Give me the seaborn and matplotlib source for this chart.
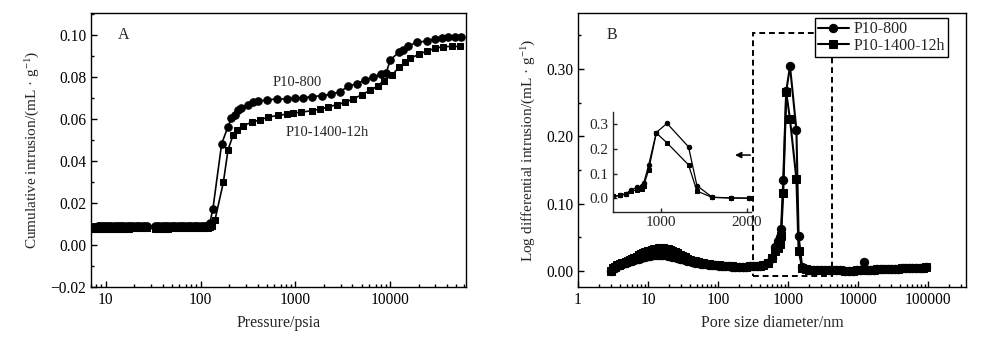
import numpy as np
import pandas as pd
import matplotlib
matplotlib.use("Agg")
import matplotlib.pyplot as plt
import matplotlib.ticker as mticker
from matplotlib.patches import Rectangle
import seaborn as sns

# ---------------- Panel A data ----------------
pressure_800 = [7.2, 7.5, 7.8, 8.2, 8.6, 9.0, 9.4, 9.9, 10.4, 10.9,
                11.5, 12.1, 12.7, 13.4, 14.1, 14.9, 15.7, 16.6, 17.5, 18.5,
                19.6, 20.7, 21.9, 23.2, 24.5, 25.9, 27.0, 33.0, 34.8, 36.7,
                38.8, 41.0, 43.3, 45.8, 48.4, 51.2, 54.1, 57.2, 60.5, 64.0,
                67.7, 71.6, 75.7, 80.1, 84.7, 89.6, 94.8, 100.3, 106.1, 112.2,
                118.7, 125.5, 135, 167, 195, 212, 229, 250, 270, 318,
                360, 407, 500, 635, 810, 1000, 1200, 1480, 1900, 2350,
                2960, 3620, 4440, 5400, 6600, 8000, 9100, 10000, 12500, 13800,
                15500, 19000, 24300, 29700, 34800, 40500, 47700, 56000]
intrusion_800 = [0.0086, 0.0087, 0.0087, 0.0088, 0.0088, 0.0088, 0.0088, 0.0089, 0.0089, 0.0089,
                 0.0089, 0.0089, 0.0089, 0.0089, 0.0090, 0.0090, 0.0090, 0.0090, 0.0090, 0.0090,
                 0.0090, 0.0090, 0.0090, 0.0090, 0.0090, 0.0090, 0.0090, 0.0089, 0.0089, 0.0089,
                 0.0089, 0.0089, 0.0089, 0.0090, 0.0090, 0.0090, 0.0090, 0.0090, 0.0090, 0.0090,
                 0.0090, 0.0090, 0.0090, 0.0090, 0.0090, 0.0090, 0.0090, 0.0091, 0.0091, 0.0092,
                 0.0094, 0.0105, 0.0171, 0.0481, 0.0563, 0.0603, 0.0619, 0.0643, 0.0651, 0.0667,
                 0.0678, 0.0683, 0.0690, 0.0694, 0.0695, 0.0698, 0.0700, 0.0705, 0.0710, 0.0716,
                 0.0729, 0.0755, 0.0767, 0.0784, 0.0797, 0.0811, 0.0820, 0.0879, 0.0919, 0.0927,
                 0.0946, 0.0963, 0.0970, 0.0978, 0.0985, 0.0989, 0.0990, 0.0990]

pressure_1400 = [7.2, 7.5, 7.8, 8.2, 8.6, 9.0, 9.4, 9.9, 10.4, 10.9,
                 11.5, 12.1, 12.7, 13.4, 14.1, 14.9, 15.7, 16.6, 17.5, 18.5,
                 19.6, 20.7, 21.9, 23.2, 24.5, 25.9, 27.0, 33.0, 34.8, 36.7,
                 38.8, 41.0, 43.3, 45.8, 48.4, 51.2, 54.1, 57.2, 60.5, 64.0,
                 67.7, 71.6, 75.7, 80.1, 84.7, 89.6, 94.8, 100.3, 106.1, 112.2,
                 118.7, 125.5, 132, 142, 174, 195, 221, 243, 282, 345,
                 426, 516, 660, 810, 950, 1160, 1480, 1820, 2230, 2730,
                 3330, 4080, 5000, 6120, 7500, 8500, 10500, 12500, 14400, 16300,
                 19900, 24300, 29700, 36000, 44400, 54500]
intrusion_1400 = [0.0074, 0.0075, 0.0075, 0.0076, 0.0076, 0.0076, 0.0077, 0.0077, 0.0077, 0.0077,
                  0.0078, 0.0078, 0.0078, 0.0078, 0.0078, 0.0078, 0.0078, 0.0078, 0.0078, 0.0079,
                  0.0079, 0.0079, 0.0079, 0.0079, 0.0079, 0.0079, 0.0079, 0.0078, 0.0078, 0.0078,
                  0.0078, 0.0078, 0.0078, 0.0078, 0.0079, 0.0079, 0.0079, 0.0079, 0.0079, 0.0079,
                  0.0079, 0.0079, 0.0079, 0.0079, 0.0079, 0.0079, 0.0080, 0.0080, 0.0080, 0.0081,
                  0.0082, 0.0085, 0.0092, 0.0119, 0.0297, 0.0452, 0.0524, 0.0548, 0.0567, 0.0583,
                  0.0595, 0.0608, 0.0616, 0.0622, 0.0627, 0.0632, 0.0638, 0.0646, 0.0656, 0.0667,
                  0.0678, 0.0694, 0.0714, 0.0735, 0.0757, 0.0782, 0.0808, 0.0848, 0.0868, 0.0887,
                  0.0906, 0.0922, 0.0935, 0.0943, 0.0944, 0.0944]

# ---------------- Panel B data ----------------
diameter_nm = [3.0, 3.2, 3.4, 3.6, 3.8, 4.0, 4.3, 4.6, 4.9, 5.2,
               5.6, 6.0, 6.4, 6.9, 7.4, 8.0, 8.6, 9.2, 9.9, 10.6,
               11.4, 12.3, 13.2, 14.2, 15.3, 16.5, 17.8, 19.2, 20.7, 22.4,
               24.2, 26.2, 28.4, 30.8, 33.4, 36.3, 39.5, 43.0, 47.0, 51.5,
               56.5, 62.0, 68.0, 75.0, 83.0, 92.0, 102, 114, 127, 142,
               159, 178, 200, 225, 253, 285, 320, 360, 400, 445,
               519, 593, 650, 724, 779, 798, 856, 945, 1070, 1321,
               1419, 1597, 1817, 2030, 2300, 2600, 2950, 3350, 3800, 4300,
               4900, 5500, 6600, 7500, 8500, 9600, 10800, 12100, 13500, 15100,
               16900, 18900, 21200, 23800, 26700, 30000, 33700, 37800, 42500, 47700,
               53600, 60200, 67600, 75900, 85200, 95000]
dv_800 = [0.000, 0.003, 0.005, 0.007, 0.008, 0.009, 0.010, 0.011, 0.012, 0.013,
          0.014, 0.015, 0.016, 0.017, 0.018, 0.019, 0.020, 0.021, 0.0215, 0.022,
          0.0228, 0.0233, 0.0237, 0.024, 0.024, 0.0238, 0.0233, 0.0227, 0.022, 0.021,
          0.020, 0.019, 0.018, 0.017, 0.016, 0.015, 0.014, 0.013, 0.012, 0.011,
          0.0105, 0.010, 0.0095, 0.009, 0.0085, 0.008, 0.0075, 0.007, 0.0068, 0.0065,
          0.0062, 0.006, 0.006, 0.006, 0.0062, 0.0065, 0.007, 0.0072, 0.0075, 0.008,
          0.012, 0.019, 0.035, 0.045, 0.050, 0.062, 0.135, 0.267, 0.304, 0.209,
          0.052, 0.005, 0.002, 0.001, 0.001, 0.001, 0.001, 0.001, 0.001, 0.001,
          0.001, 0.001, 0.000, 0.000, 0.0005, 0.001, 0.001, 0.0125, 0.001, 0.0015,
          0.0015, 0.002, 0.002, 0.002, 0.0025, 0.0025, 0.003, 0.003, 0.0035, 0.0035,
          0.004, 0.004, 0.004, 0.0045, 0.0045, 0.005]
dv_1400 = [0.000, 0.004, 0.006, 0.008, 0.009, 0.010, 0.011, 0.012, 0.013, 0.014,
           0.016, 0.018, 0.019, 0.021, 0.023, 0.025, 0.026, 0.028, 0.029, 0.030,
           0.031, 0.032, 0.0328, 0.0333, 0.0335, 0.0333, 0.033, 0.032, 0.031, 0.030,
           0.028, 0.026, 0.024, 0.022, 0.020, 0.018, 0.016, 0.015, 0.014, 0.013,
           0.012, 0.011, 0.010, 0.0095, 0.009, 0.0085, 0.008, 0.0075, 0.007, 0.0068,
           0.0065, 0.0063, 0.0062, 0.0062, 0.0063, 0.0065, 0.007, 0.0072, 0.0075, 0.008,
           0.012, 0.019, 0.030, 0.034, 0.040, 0.052, 0.115, 0.265, 0.225, 0.136,
           0.030, 0.004, 0.002, 0.001, 0.001, 0.001, 0.001, 0.001, 0.001, 0.001,
           0.001, 0.001, 0.000, 0.000, 0.0005, 0.001, 0.001, 0.001, 0.001, 0.0015,
           0.0015, 0.002, 0.002, 0.002, 0.0025, 0.0025, 0.003, 0.003, 0.0035, 0.0035,
           0.004, 0.004, 0.004, 0.0045, 0.0045, 0.005]

series_names = ["P10-800", "P10-1400-12h"]
series_markers = ["o", "s"]

sns.set_style("ticks")
plt.rcParams["font.family"] = ["Liberation Serif", "DejaVu Serif"]
plt.rcParams["mathtext.fontset"] = "custom"
plt.rcParams["mathtext.rm"] = "Liberation Serif"
plt.rcParams["mathtext.it"] = "Liberation Serif:italic"
plt.rcParams["font.size"] = 11

fig = plt.figure(figsize=(10, 3.44), dpi=100)
axA = fig.add_axes([0.091, 0.1657, 0.375, 0.7965])
axB = fig.add_axes([0.578, 0.1657, 0.388, 0.7965])

TICK_FS = 11.2

def style_axis(ax):
    for s in ax.spines.values():
        s.set_color("black")
        s.set_linewidth(1.0)
    ax.tick_params(which="both", direction="in", top=False, right=False,
                   colors="black", labelsize=TICK_FS)
    ax.tick_params(which="major", length=4, width=1)
    ax.tick_params(which="minor", length=2, width=1)

def plain_log(v, pos):
    return "%d" % int(round(v)) if v >= 1 else ""

# ---------- Panel A ----------
dfA = [pd.DataFrame({"p": pressure_800, "v": intrusion_800}),
       pd.DataFrame({"p": pressure_1400, "v": intrusion_1400})]
for df, name, mk, ms in zip(dfA, series_names, series_markers, [5.4, 4.8]):
    sns.lineplot(data=df, x="p", y="v", ax=axA, color="black", marker=mk,
                 markersize=ms, markeredgecolor="black", linewidth=1.2,
                 estimator=None, sort=False, legend=False)
axA.set_xscale("log")
axA.set_xlim(7.0, 63000)
axA.set_ylim(-0.02, 0.1103)
axA.xaxis.set_major_locator(mticker.LogLocator(base=10, numticks=10))
axA.xaxis.set_minor_locator(mticker.LogLocator(base=10, subs=np.arange(2, 10), numticks=20))
axA.xaxis.set_major_formatter(mticker.FuncFormatter(plain_log))
axA.xaxis.set_minor_formatter(mticker.NullFormatter())
axA.yaxis.set_major_locator(mticker.MultipleLocator(0.02))
axA.yaxis.set_minor_locator(mticker.MultipleLocator(0.01))
axA.yaxis.set_major_formatter(mticker.FuncFormatter(lambda v, p: ("\u2212%.2f" % -v) if v < -1e-9 else "%.2f" % abs(v)))
style_axis(axA)
axA.set_xlabel("Pressure/psia", fontsize=11.5, labelpad=5)
axA.set_ylabel("Cumulative intrusion/(mL · g$^{-1}$)", fontsize=11, labelpad=6)
axA.text(0.088, 0.92, "A", transform=axA.transAxes, fontsize=11.5, ha="center", va="center")
axA.text(1040, 0.0771, "P10-800", fontsize=10.5, ha="center", va="center")
axA.text(2150, 0.0533, "P10-1400-12h", fontsize=10.5, ha="center", va="center")

# ---------- Panel B ----------
dfB = pd.DataFrame({"d": diameter_nm * 2,
                    "v": dv_800 + dv_1400,
                    "sample": [series_names[0]] * len(diameter_nm) + [series_names[1]] * len(diameter_nm)})
sns.lineplot(data=dfB, x="d", y="v", hue="sample", style="sample",
             palette=["black", "black"], markers=dict(zip(series_names, series_markers)),
             dashes=False, markersize=6, markeredgecolor="black", linewidth=1.5,
             estimator=None, sort=False, ax=axB)
axB.set_xscale("log")
axB.set_xlim(1, 350000)
axB.set_ylim(-0.024, 0.383)
axB.xaxis.set_major_locator(mticker.LogLocator(base=10, numticks=10))
axB.xaxis.set_minor_locator(mticker.LogLocator(base=10, subs=np.arange(2, 10), numticks=20))
axB.xaxis.set_major_formatter(mticker.FuncFormatter(plain_log))
axB.xaxis.set_minor_formatter(mticker.NullFormatter())
axB.yaxis.set_major_locator(mticker.MultipleLocator(0.10))
axB.yaxis.set_minor_locator(mticker.MultipleLocator(0.05))
axB.yaxis.set_major_formatter(mticker.FormatStrFormatter("%.2f"))
style_axis(axB)
axB.set_xlabel("Pore size diameter/nm", fontsize=11.5, labelpad=5)
axB.set_ylabel("Log differential intrusion/(mL · g$^{-1}$)", fontsize=11, labelpad=6)
axB.text(0.088, 0.92, "B", transform=axB.transAxes, fontsize=11.5, ha="center", va="center")

leg = axB.legend(loc="upper right", bbox_to_anchor=(0.954, 0.982), frameon=True,
                 fancybox=False, fontsize=11.5, handlelength=1.9, borderpad=0.2,
                 labelspacing=0.05, handletextpad=0.3, borderaxespad=0.0)
leg.get_frame().set_edgecolor("black")
leg.get_frame().set_linewidth(1.0)
leg.get_frame().set_alpha(1)

# zoom box and arrow
axB.add_patch(Rectangle((316, -0.0074), 4250 - 316, 0.354 + 0.0074, fill=False,
                        edgecolor="black", linestyle=(0, (3, 2)), linewidth=1.4, zorder=5))
axB.annotate("", xy=(160, 0.172), xytext=(318, 0.172),
             arrowprops=dict(arrowstyle="-|>", color="black", lw=1.1, mutation_scale=9))

# ---------- Inset ----------
axI = fig.add_axes([0.613, 0.3837, 0.138, 0.2907])
mask = [(440 <= d <= 2100) for d in diameter_nm]
d_in = [d for d, m in zip(diameter_nm, mask) if m]
for vals, mk in zip([dv_800, dv_1400], series_markers):
    v_in = [v for v, m in zip(vals, mask) if m]
    sns.lineplot(x=d_in, y=v_in, ax=axI, color="black", marker=mk, markersize=3.2,
                 markeredgecolor="black", linewidth=0.9, estimator=None, sort=False, legend=False)
axI.set_xlim(440, 2050)
axI.set_ylim(-0.055, 0.35)
axI.xaxis.set_major_locator(mticker.MultipleLocator(1000))
axI.yaxis.set_major_locator(mticker.MultipleLocator(0.1))
axI.yaxis.set_major_formatter(mticker.FormatStrFormatter("%.1f"))
axI.spines["top"].set_visible(False)
axI.spines["right"].set_visible(False)
axI.set_facecolor("none")
for s in ["left", "bottom"]:
    axI.spines[s].set_linewidth(1.0)
axI.tick_params(which="both", direction="in", labelsize=11, length=3, width=1, pad=3)
axI.set_xlabel("")
axI.set_ylabel("")

fig.savefig("out.png", dpi=100)
